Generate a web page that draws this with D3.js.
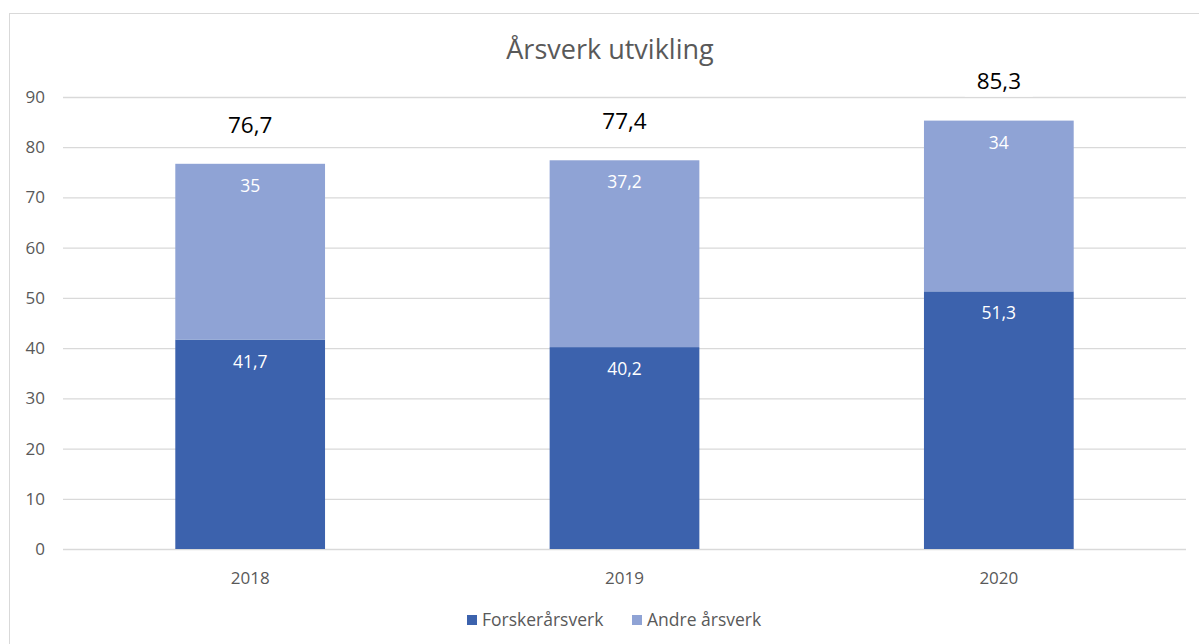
<!DOCTYPE html>
<html>
<head>
<meta charset="utf-8">
<script src="https://cdn.jsdelivr.net/npm/d3@7"></script>
<style>
  body { margin: 0; background: #fff; }
  svg { display: block; font-family: "Open Sans", Lato, sans-serif; }
</style>
</head>
<body>
<svg id="chart" width="1199" height="644"></svg>
<script>
// data
const years = ['2018', '2019', '2020']
const forsker = [41.7, 40.2, 51.3]
const andre = [35, 37.2, 34]
const totals = [76.7, 77.4, 85.3]
const yTicks = [0, 10, 20, 30, 40, 50, 60, 70, 80, 90]
const seriesNames = ['Forskerårsverk', 'Andre årsverk']
const colors = ['#3c62ad', '#8fa3d5']

const fmt = v => String(v).replace('.', ',')

const svg = d3.select('#chart')
const margin = { left: 63, right: 14, top: 97, bottom: 95 }

// chart frame
svg.append('rect')
  .attr('x', 9.5).attr('y', 13.5)
  .attr('width', 1199).attr('height', 700)
  .attr('fill', '#fff')
  .attr('stroke', '#d9d9d9')

const x = d3.scaleBand()
  .domain(years)
  .range([margin.left, 1186])
  .paddingInner(0.6)
  .paddingOuter(0.3)

const y = d3.scaleLinear()
  .domain([0, 90])
  .range([549, 97])

// gridlines
svg.append('g')
  .selectAll('line')
  .data(yTicks)
  .join('line')
  .attr('x1', margin.left).attr('x2', 1186)
  .attr('y1', d => y(d) + 0.5).attr('y2', d => y(d) + 0.5)
  .attr('stroke', '#d9d9d9')
  .attr('stroke-width', 1.3)

// y labels
svg.append('g')
  .selectAll('text')
  .data(yTicks)
  .join('text')
  .attr('x', 45)
  .attr('y', d => y(d))
  .attr('dy', '0.35em')
  .attr('text-anchor', 'end')
  .attr('font-size', 17)
  .attr('fill', '#595959')
  .text(d => d)

// x labels
svg.append('g')
  .selectAll('text')
  .data(years)
  .join('text')
  .attr('x', d => x(d) + x.bandwidth() / 2)
  .attr('y', 578)
  .attr('dy', '0.35em')
  .attr('text-anchor', 'middle')
  .attr('font-size', 17)
  .attr('fill', '#595959')
  .text(d => d)

// stacked bars
const rows = years.map((yr, i) => ({ year: yr, forsker: forsker[i], andre: andre[i] }))
const stack = d3.stack().keys(['forsker', 'andre'])(rows)

const layers = svg.append('g')
  .selectAll('g')
  .data(stack)
  .join('g')
  .attr('fill', (d, i) => colors[i])

layers.selectAll('rect')
  .data(d => d)
  .join('rect')
  .attr('x', d => x(d.data.year))
  .attr('width', x.bandwidth())
  .attr('y', d => y(d[1]))
  .attr('height', d => y(d[0]) - y(d[1]))

// segment labels (inside end)
layers.selectAll('text')
  .data(d => d)
  .join('text')
  .attr('x', d => x(d.data.year) + x.bandwidth() / 2)
  .attr('y', d => y(d[1]) + 22)
  .attr('dy', '0.35em')
  .attr('text-anchor', 'middle')
  .attr('font-size', 17.5)
  .attr('fill', '#fff')
  .text(d => fmt(+(d[1] - d[0]).toFixed(1)))

// totals
const tot = svg.append('g')
  .selectAll('g')
  .data(years)
  .join('g')
  .attr('transform', (d, i) => `translate(${x(d) + x.bandwidth() / 2},${y(totals[i]) - 39})`)

tot.append('rect')
  .attr('x', -34).attr('y', -15)
  .attr('width', 68).attr('height', 30)
  .attr('fill', '#fff')

tot.append('text')
  .attr('dy', '0.35em')
  .attr('text-anchor', 'middle')
  .attr('font-size', 22.5)
  .attr('fill', '#000')
  .text((d, i) => fmt(totals[i]))

// title
svg.append('text')
  .attr('x', 610).attr('y', 50)
  .attr('dy', '0.35em')
  .attr('text-anchor', 'middle')
  .attr('font-size', 27)
  .attr('fill', '#595959')
  .text('Årsverk utvikling')

// legend
const legendX = [467, 632]
const legend = svg.append('g')
  .selectAll('g')
  .data(seriesNames)
  .join('g')
  .attr('transform', (d, i) => `translate(${legendX[i]},620)`)

legend.append('rect')
  .attr('x', 0).attr('y', -5)
  .attr('width', 10).attr('height', 10)
  .attr('fill', (d, i) => colors[i])

legend.append('text')
  .attr('x', 15)
  .attr('dy', '0.35em')
  .attr('font-size', 17.5)
  .attr('fill', '#595959')
  .text(d => d)
</script>
</body>
</html>
